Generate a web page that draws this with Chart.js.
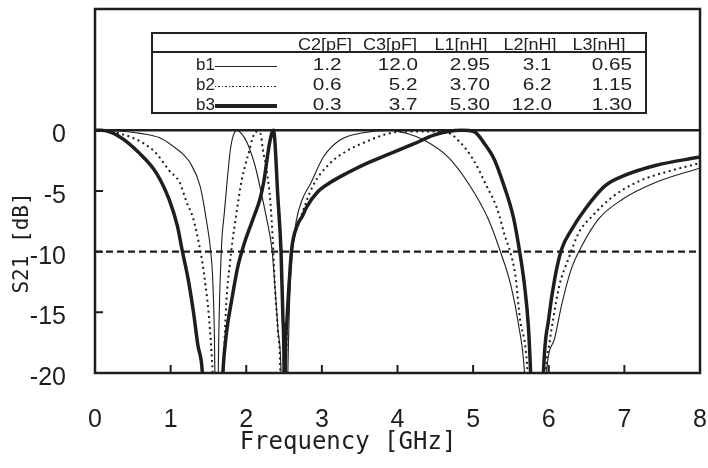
<!DOCTYPE html>
<html><head><meta charset="utf-8">
<script src="https://cdn.jsdelivr.net/npm/chart.js@4.4.1/dist/chart.umd.min.js"></script>
<style>
html,body{margin:0;padding:0;background:#fff;}
#wrap{position:relative;width:708px;height:468px;overflow:hidden;}
canvas{position:absolute;left:0;top:0;}
.cell{position:absolute;font-family:'Liberation Sans',Arial,sans-serif;font-size:17px;line-height:20px;height:20px;white-space:nowrap;color:#222;}
.box{position:absolute;border:2px solid #222;box-sizing:border-box;}
.hl{position:absolute;background:#222;}
</style></head>
<body><div id="wrap"><canvas id="c" width="708" height="468"></canvas></div>
<script>
// ---- data ----
const freqB1 = [0, 0.3, 0.6, 0.85, 1.03, 1.17, 1.26, 1.39, 1.47, 1.53, 1.56, 1.585, 1.605, 1.63, 1.67, 1.71, 1.75, 1.79, 1.83, 1.88, 1.94, 2.01, 2.12, 2.2, 2.27, 2.34, 2.38, 2.42, 2.46, 2.505, 2.55, 2.58, 2.61, 2.66, 2.74, 2.85, 3.02, 3.24, 3.55, 3.9, 4.15, 4.35, 4.67, 4.93, 5.2, 5.35, 5.5, 5.6, 5.68, 5.82, 5.97, 6.08, 6.17, 6.3, 6.44, 6.66, 6.97, 7.41, 8];
const s21B1  = [0, -0.05, -0.25, -0.6, -1.3, -2.0, -2.7, -4.6, -7.3, -10, -12.8, -20, -40, -20, -10, -6.8, -4.0, -1.6, -0.4, 0, -0.3, -1.0, -3.0, -5.2, -7.3, -9.8, -12.9, -16.5, -20, -40, -20, -13, -10, -7.5, -5.7, -4.4, -2.2, -0.8, -0.2, 0, -0.3, -0.8, -2.2, -4.3, -7.3, -9.8, -12.8, -16, -20, -40, -20, -17.1, -14.4, -11.4, -9.5, -7.3, -5.7, -4.3, -3.1];

const freqB2 = [0, 0.2, 0.45, 0.65, 0.81, 0.98, 1.12, 1.21, 1.30, 1.38, 1.42, 1.46, 1.50, 1.54, 1.555, 1.64, 1.70, 1.74, 1.78, 1.82, 1.86, 1.90, 1.94, 1.99, 2.04, 2.08, 2.14, 2.19, 2.22, 2.27, 2.32, 2.35, 2.38, 2.42, 2.45, 2.49, 2.525, 2.545, 2.575, 2.62, 2.71, 2.88, 3.11, 3.33, 3.6, 3.86, 4.07, 4.39, 4.66, 4.83, 5.0, 5.18, 5.32, 5.42, 5.49, 5.56, 5.62, 5.69, 5.72, 5.85, 5.96, 6.01, 6.06, 6.14, 6.26, 6.4, 6.57, 6.84, 7.19, 7.63, 8];
const s21B2  = [0, -0.1, -0.5, -1.1, -1.9, -3.3, -4.3, -5.9, -7.3, -9.5, -10.9, -12.7, -14.9, -18.2, -20, -40, -20, -13.9, -11.2, -9, -7.3, -5.6, -4.1, -2.8, -1.7, -0.7, -0.1, -0.3, -1.6, -3.3, -6, -9, -13, -16.6, -20, -40, -20, -15, -11.5, -9.3, -7.4, -4.6, -2.7, -1.7, -0.9, -0.3, -0.1, -0.1, -0.2, -1.0, -2.4, -4.6, -6.5, -8.7, -10, -12, -15.6, -17.8, -20, -40, -20, -17.5, -15.5, -12.8, -10.6, -8.4, -7.1, -5.5, -4.2, -3.3, -2.7];

const freqB3 = [0, 0.08, 0.32, 0.59, 0.81, 0.98, 1.09, 1.15, 1.23, 1.30, 1.36, 1.42, 1.555, 1.69, 1.74, 1.81, 1.89, 1.98, 2.09, 2.18, 2.23, 2.31, 2.36, 2.42, 2.46, 2.485, 2.50, 2.505, 2.515, 2.54, 2.58, 2.6, 2.67, 2.74, 2.8, 2.94, 3.11, 3.34, 3.6, 3.91, 4.22, 4.48, 4.67, 4.85, 5.01, 5.15, 5.28, 5.41, 5.53, 5.61, 5.68, 5.73, 5.76, 5.85, 5.93, 6.0, 6.08, 6.17, 6.3, 6.48, 6.74, 6.97, 7.41, 8];
const s21B3  = [0, 0, -0.5, -1.9, -3.5, -5.7, -7.9, -9.8, -12.2, -14.9, -17.7, -20, -40, -20, -16.6, -13.9, -11.2, -9.2, -7.3, -5.7, -4.3, -1.0, 0, -5.7, -10, -15.5, -20, -30, -20, -15.5, -11.4, -9.8, -7.9, -7.1, -6.3, -5.1, -4.3, -3.5, -2.7, -1.9, -1.1, -0.4, -0.1, 0, -0.1, -1.1, -2.4, -4.6, -7.1, -9.8, -12.8, -16.1, -20, -40, -20, -15.5, -12.2, -9.8, -8.2, -6.5, -4.6, -3.8, -2.9, -2.2];

const refFreq = [0, 8];
const refLevel = [-10, -10];

const xTickValues = [1, 2, 3, 4, 5, 6, 7];
const yTickValues = [-15, -10, -5];

const xTitle = 'Frequency [GHz]';
const yTitle = 'S21 [dB]';
const seriesNames = ['b1', 'b2', 'b3'];
const tableHeaders = ['C2[pF]', 'C3[pF]', 'L1[nH]', 'L2[nH]', 'L3[nH]'];
const tableC2 = ['1.2', '0.6', '0.3'];
const tableC3 = ['12.0', '5.2', '3.7'];
const tableL1 = ['2.95', '3.70', '5.30'];
const tableL2 = ['3.1', '6.2', '12.0'];
const tableL3 = ['0.65', '1.15', '1.30'];

// ---- chart ----
const INK = '#1e1e1e';
const pts = (xs, ys) => xs.map((x, i) => ({x, y: ys[i]}));

const framePlugin = {
  id: 'frame',
  afterDatasetsDraw(chart) {
    const {ctx, chartArea: a, scales: {x, y}} = chart;
    ctx.save();
    ctx.strokeStyle = INK;
    ctx.lineWidth = 2.5;
    ctx.strokeRect(a.left, a.top, a.right - a.left, a.bottom - a.top);
    const y0 = y.getPixelForValue(0);
    ctx.beginPath(); ctx.moveTo(a.left, y0); ctx.lineTo(a.right, y0); ctx.stroke();
    ctx.lineWidth = 2;
    ctx.beginPath();
    xTickValues.forEach(v => { const p = x.getPixelForValue(v); ctx.moveTo(p, a.bottom); ctx.lineTo(p, a.bottom - 8); });
    yTickValues.forEach(v => { const p = y.getPixelForValue(v); ctx.moveTo(a.left, p); ctx.lineTo(a.left + 8, p); });
    ctx.stroke();
    // axis titles
    ctx.fillStyle = INK;
    ctx.textAlign = 'center';
    ctx.textBaseline = 'middle';
    ctx.font = "24px 'DejaVu Sans Mono', monospace";
    ctx.fillText(xTitle, 348, 443);
    ctx.font = "21px 'DejaVu Sans Mono', monospace";
    ctx.translate(23, 243);
    ctx.rotate(-Math.PI / 2);
    ctx.fillText(yTitle, 0, 0);
    ctx.restore();
  }
};

new Chart(document.getElementById('c'), {
  type: 'line',
  data: {
    datasets: [
      {label: seriesNames[0], data: pts(freqB1, s21B1), borderColor: INK, borderWidth: 1.1, pointRadius: 0, cubicInterpolationMode: 'monotone', clip: 0},
      {label: seriesNames[1], data: pts(freqB2, s21B2), borderColor: INK, borderWidth: 2, borderDash: [2, 3.5], pointRadius: 0, cubicInterpolationMode: 'monotone', clip: 0},
      {label: seriesNames[2], data: pts(freqB3, s21B3), borderColor: INK, borderWidth: 3.5, pointRadius: 0, cubicInterpolationMode: 'monotone', clip: 0},
      {label: '-10dB', data: pts(refFreq, refLevel), borderColor: INK, borderWidth: 2.2, borderDash: [7, 4], pointRadius: 0, clip: 0}
    ]
  },
  options: {
    responsive: false,
    animation: false,
    devicePixelRatio: 1,
    layout: {padding: {top: 9, right: 8, left: 0, bottom: 0}},
    plugins: {legend: {display: false}, tooltip: {enabled: false}},
    scales: {
      x: {
        type: 'linear', min: 0, max: 8,
        afterFit: s => { s.height = 95; s.paddingLeft = 0; s.paddingRight = 0; s.paddingTop = 0; s.paddingBottom = 0; },
        grid: {display: false}, border: {display: false},
        ticks: {stepSize: 1, padding: 24, color: INK, font: {family: "'Liberation Sans', Arial, sans-serif", size: 25}},
        title: {display: false}
      },
      y: {
        type: 'linear', min: -20, max: 10,
        afterFit: s => { s.width = 95; s.paddingLeft = 0; s.paddingRight = 0; s.paddingTop = 0; s.paddingBottom = 0; },
        grid: {display: false}, border: {display: false},
        ticks: {stepSize: 5, padding: 21, labelOffset: 5, color: INK, font: {family: "'Liberation Sans', Arial, sans-serif", size: 25},
          callback: v => (v > 0 ? '' : String(v))}
      }
    }
  },
  plugins: [framePlugin]
});

// ---- legend table (HTML) ----
const wrap = document.getElementById('wrap');
function add(cls, style, text) {
  const d = document.createElement('div');
  d.className = cls;
  Object.assign(d.style, style);
  if (text !== undefined) d.textContent = text;
  wrap.appendChild(d);
  return d;
}
add('box', {left: '151px', top: '32px', width: '496px', height: '82px'});
add('hl', {left: '151px', top: '51px', width: '496px', height: '2px'});
const hdrCenters = [325, 390, 461, 530, 599];
const valRight = [342, 418, 490, 552, 632];
const rowCenters = [65, 85, 105];
const cols = [tableC2, tableC3, tableL1, tableL2, tableL3];
tableHeaders.forEach((h, j) => {
  add('cell', {left: (hdrCenters[j] - 60) + 'px', width: '120px', textAlign: 'center', top: (45 - 10) + 'px', transform: 'scaleX(1.06)', transformOrigin: 'center'}, h);
});
seriesNames.forEach((n, i) => {
  const top = (rowCenters[i] - 10) + 'px';
  add('cell', {left: '196px', top}, n);
  cols.forEach((col, j) => {
    add('cell', {right: (708 - valRight[j]) + 'px', top, textAlign: 'right', transform: 'scaleX(1.22)', transformOrigin: 'right center'}, col[i]);
  });
});
// legend line samples
add('hl', {left: '215px', width: '62px', top: (rowCenters[0] + 1) + 'px', height: '1.2px'});
add('hl', {left: '215px', width: '62px', top: (rowCenters[1] + 1) + 'px', height: '1.2px', background: 'repeating-linear-gradient(to right, #222 0 1.5px, transparent 1.5px 3.5px)'});
add('hl', {left: '215px', width: '62px', top: (rowCenters[2] - 1) + 'px', height: '3.5px'});
</script>
</body></html>
